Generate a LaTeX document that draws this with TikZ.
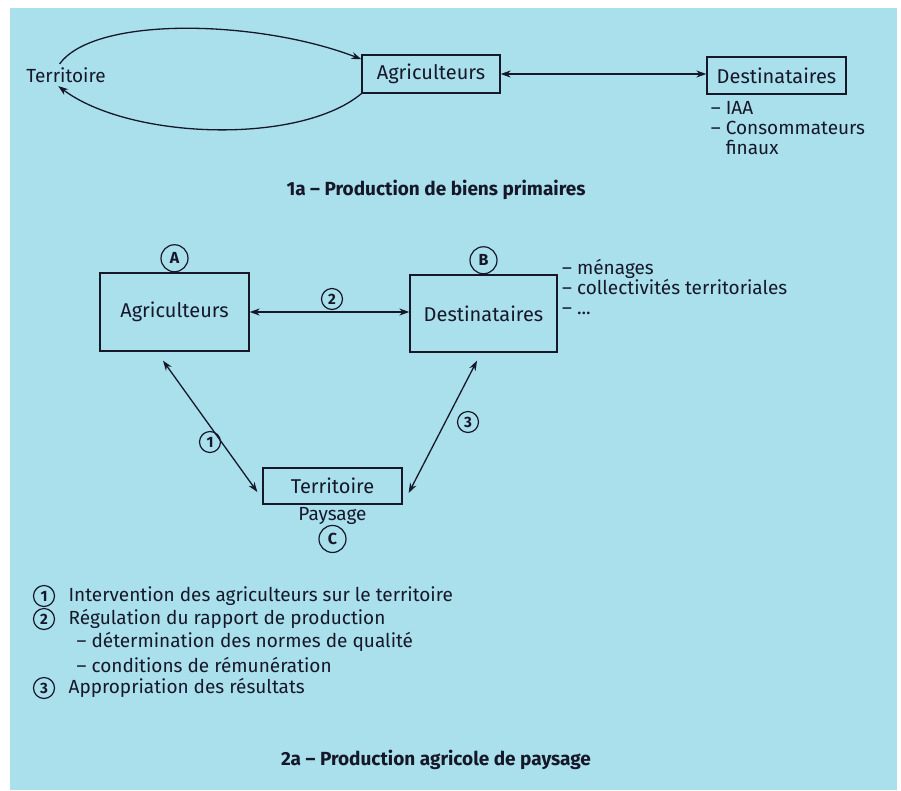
\documentclass[tikz,border=0pt]{standalone}
\usepackage{fontspec}
\setmainfont{Fira Sans}
\usetikzlibrary{arrows.meta,positioning}
\definecolor{ink}{HTML}{16182A}
\definecolor{paper}{HTML}{A9E0EC}

\begin{document}
\begin{tikzpicture}[x=1pt,y=-1pt, >={Stealth[length=10pt,width=7pt]}, every node/.style={font=\fontsize{19}{20}\selectfont,text=ink}, box/.style={draw=ink,line width=1.3pt,inner sep=0pt,font=\fontsize{20}{22}\selectfont}, tag/.style={draw=ink,circle,line width=1.2pt,inner sep=0pt,minimum size=27pt,font=\fontsize{16}{16}\selectfont\bfseries}, num/.style={tag,minimum size=21pt,font=\fontsize{15}{15}\selectfont\bfseries}, title/.style={font=\fontsize{19}{20}\selectfont\bfseries}, line/.style={<->,line width=1.3pt,draw=ink}]
\useasboundingbox (0,0) rectangle (901,790);
\fill[paper] (10,8) rectangle (897,790);
% 1a
\node (terr1) at (66,75) {Territoire};
\node[box,minimum width=138pt,minimum height=38pt] (agri1) at (431,74) {Agriculteurs};
\node[box,minimum width=139pt,minimum height=37pt] (dest1) at (776.5,75.5) {Destinataires};
\node[anchor=north west,align=left] (dlist1) at ([xshift=1pt,yshift=-3pt]dest1.south west) {– IAA\\– Consommateurs\\\phantom{– }finaux};
\draw[->,line width=1.3pt,draw=ink] (terr1.120) .. controls (95,15) and (260,20) .. (agri1.168);
\draw[->,line width=1.3pt,draw=ink] (agri1.south west) .. controls (300,145) and (130,140) .. (terr1.235);
\draw[line] (agri1.east) -- (agri1.east -| dest1.west);
\node[title] (title1) at (436,190) {1a – Production de biens primaires};
% 2a
\node[box,minimum width=149pt,minimum height=78pt] (agri2) at (174.5,312) {Agriculteurs};
\node[box,minimum width=147pt,minimum height=77pt] (dest2) at (483.5,313.5) {Destinataires};
\node[box,minimum width=139pt,minimum height=36pt] (terr2) at (332.5,486) {Territoire};
\node[tag,above=0pt of agri2] (tagA) {A};
\node[tag,above=0pt of dest2] (tagB) {B};
\node[below=-1pt of terr2] (paysage) {Paysage};
\node[tag,below=-3pt of paysage] (tagC) {C};
\node[anchor=west,align=left] (dlist2) at ([xshift=1pt,yshift=27pt]dest2.east) {– ménages\\– collectivités territoriales\\– ...};
\draw[line] (agri2.east) -- (agri2.east -| dest2.west);
\draw[line] ([xshift=-11.5pt,yshift=-9pt]agri2.south) -- ([xshift=-5pt,yshift=-6pt]terr2.west);
\draw[line] ([xshift=-6.5pt,yshift=-8pt]dest2.south) -- ([xshift=6pt,yshift=-7pt]terr2.east);
\node[num] (n2) at (332,299) {2};
\node[num] (n1) at (210,442) {1};
\node[num] (n3) at (468,422) {3};
% legend
\node[num] (k1) at (44,596) {1};
\node[anchor=west] (key1) at ([xshift=10pt]k1.east) {Intervention des agriculteurs sur le territoire};
\node[num] (k2) at (44,619) {2};
\node[anchor=west] (key2) at ([xshift=10pt]k2.east) {Régulation du rapport de production};
\node[anchor=west] (key2a) at ([xshift=8pt,yshift=-23pt]key2.west) {– détermination des normes de qualité};
\node[anchor=west] (key2b) at ([yshift=-23pt]key2a.west) {– conditions de rémunération};
\node[num] (k3) at (44,688) {3};
\node[anchor=west] (key3) at ([xshift=10pt]k3.east) {Appropriation des résultats};
\node[title] (title2) at (436,760) {2a – Production agricole de paysage};
\end{tikzpicture}
\end{document}
